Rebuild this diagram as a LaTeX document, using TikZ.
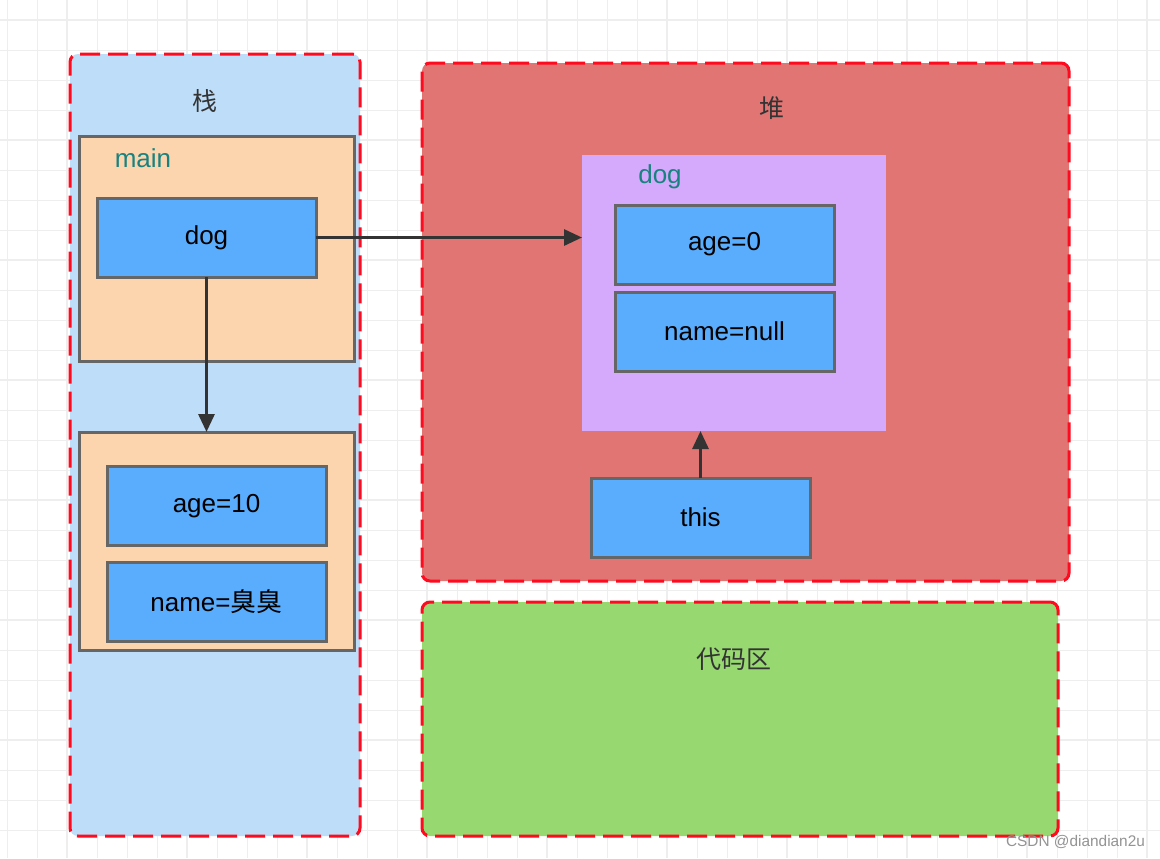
\documentclass[tikz,border=0pt]{standalone}
\usepackage{fontspec}
\setmainfont{Liberation Sans}
\newfontfamily\cjk{Noto Sans CJK SC}
\usetikzlibrary{arrows.meta}
\definecolor{stackblue}{HTML}{BEDDF8}
\definecolor{heapred}{HTML}{E07574}
\definecolor{codegreen}{HTML}{97D871}
\definecolor{peach}{HTML}{FCD4AE}
\definecolor{varblue}{HTML}{5AACFC}
\definecolor{objpurple}{HTML}{D5A9FB}
\definecolor{boxgray}{HTML}{666666}
\definecolor{arrowgray}{HTML}{333333}
\definecolor{dashred}{HTML}{FF0A1E}
\definecolor{tagteal}{HTML}{17827F}
\definecolor{gridgray}{HTML}{EEEEEE}
\tikzset{
	area/.style={draw=dashred, line width=1.5pt, dash pattern=on 10pt off 4pt, rounded corners=4pt, inner sep=0pt, outer sep=0pt},
	frame/.style={draw=boxgray, line width=1.5pt, fill=peach, minimum width=137.5pt, inner sep=0pt, outer sep=0pt},
	var/.style={draw=boxgray, line width=1.5pt, fill=varblue, minimum width=109.5pt, minimum height=39.5pt, inner sep=0pt, outer sep=0pt, font=\fontsize{13}{15}\selectfont},
	ref/.style={draw=arrowgray, line width=1.5pt, -{Triangle[length=9pt,width=8pt]}},
	title/.style={font=\cjk\fontsize{12.5}{15}\selectfont, text=arrowgray},
	tag/.style={font=\fontsize{13}{15}\selectfont, text=tagteal},
	gridline/.style={draw=gridgray, line width=0.5pt},
	gridmajor/.style={draw=gridgray, line width=1pt}
}

\begin{document}
\begin{tikzpicture}[x=0.5pt, y=-0.5pt]
		%%%%% START %%%%%
		\useasboundingbox[fill=white] (0,0) rectangle (1160,858);
		
		\foreach \gx in {7,37,...,1160} \draw[gridline] (\gx,0) -- (\gx,858);
		\foreach \gy in {20,50,...,858} \draw[gridline] (0,\gy) -- (1160,\gy);
		\foreach \gx in {67,187,...,1160} \draw[gridmajor] (\gx,0) -- (\gx,858);
		\foreach \gy in {20,140,...,858} \draw[gridmajor] (0,\gy) -- (1160,\gy);
		
		% stack
		\node[area, fill=stackblue, minimum width=145pt, minimum height=391pt] (stack) at (215,445) {};
		\node[title] (stacklabel) at (205,101) {栈};
		\node[frame, minimum height=112.5pt] (mainframe) at (216.5,248.5) {};
		\node[tag] (mainlabel) at (143,158) {main};
		\node[var] (dog) at (206.5,237.5) {dog};
		\node[frame, minimum height=109pt] (callframe) at (216.5,541) {};
		\node[var] (age) at (216.5,506) {age=10};
		\node[var] (name) at (216.5,602) {name={\cjk 臭臭}};
		
		% heap
		\node[area, fill=heapred, minimum width=323.5pt, minimum height=259pt] (heap) at (745.5,322) {};
		\node[title] (heaplabel) at (772,108) {堆};
		\node[fill=objpurple, minimum width=152pt, minimum height=138pt, inner sep=0pt, outer sep=0pt] (dogobj) at (734,293) {};
		\node[tag] (doglabel) at (660,177) {dog};
		\node[var] (agezero) at (724.5,244.5) {age=0};
		\node[var] (namenull) at (724.5,331.5) {name=null};
		\node[var] (this) at (700.5,517.5) {this};
		
		% code
		\node[area, fill=codegreen, minimum width=318pt, minimum height=117pt] (code) at (740,719) {};
		\node[title] (codelabel) at (734,659) {代码区};
		
		\draw[ref] (dog.east) -- (dog.east -| dogobj.west);
		\draw[ref] (dog.south) -- (dog.south |- callframe.north);
		\draw[ref] (this.north) -- (this.north |- dogobj.south);
		
		\node[font=\fontsize{7.7}{9}\selectfont, text=black!42] (mark) at (1075.5,842) {CSDN @diandian2u};
		%%%%% END %%%%%
\end{tikzpicture}
\end{document}
